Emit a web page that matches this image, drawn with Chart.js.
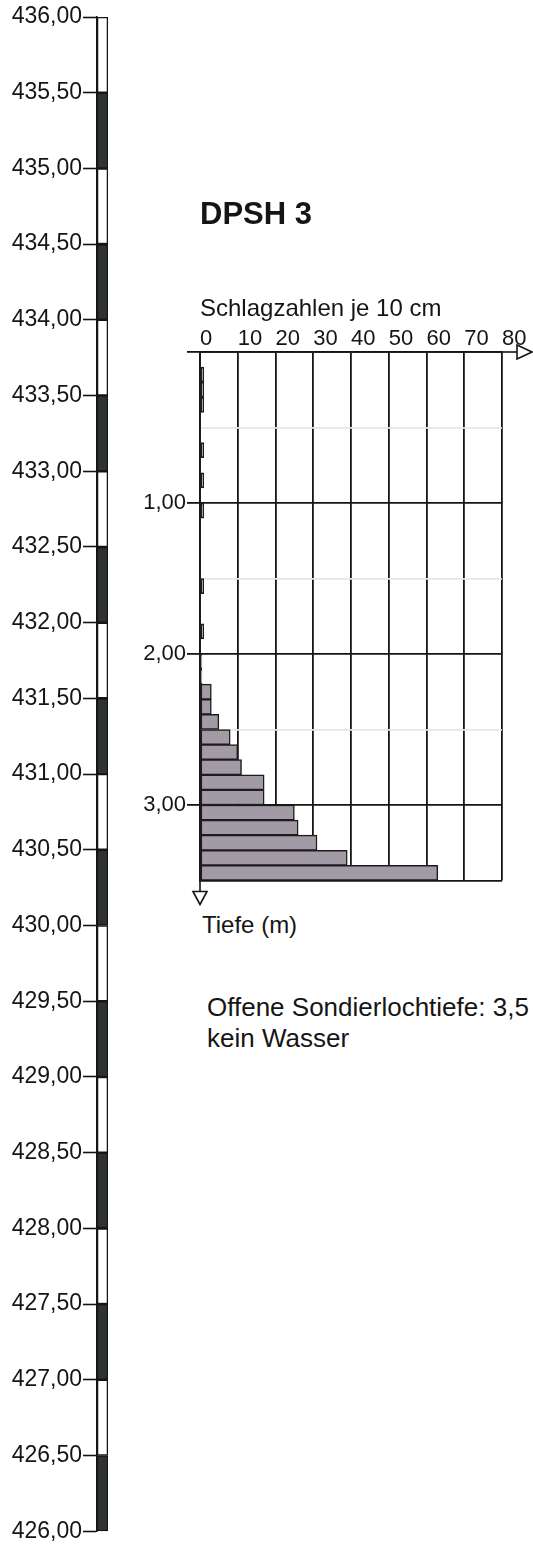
<!DOCTYPE html>
<html>
<head>
<meta charset="utf-8">
<script src="https://cdn.jsdelivr.net/npm/chart.js@4.4.1/dist/chart.umd.min.js"></script>
<style>
  body { margin: 0; background: #fff; }
  #page { position: relative; width: 533px; height: 1546px; overflow: hidden; font-family: "Liberation Sans", Arial, sans-serif; color: #151515; }
  canvas { position: absolute; }
  #levels { left: 0; top: 0; }
  #dpsh { left: 120px; top: 190px; }
  .note { position: absolute; white-space: nowrap; }
  #depthTitle { left: 202px; top: 913px; font-size: 24px; line-height: 24px; }
  #holeNote { left: 207px; top: 992px; font-size: 26px; line-height: 31px; }
</style>
</head>
<body>
<div id="page">
  <canvas id="levels" width="120" height="1546"></canvas>
  <canvas id="dpsh" width="413" height="720"></canvas>
  <div class="note" id="depthTitle">Tiefe (m)</div>
  <div class="note" id="holeNote">Offene Sondierlochtiefe: 3,5<br>kein Wasser</div>
</div>
<script>
// Höhenskala links (m ü. NN)
const elevBounds = [436.0, 435.5, 435.0, 434.5, 434.0, 433.5, 433.0, 432.5, 432.0, 431.5, 431.0,
                    430.5, 430.0, 429.5, 429.0, 428.5, 428.0, 427.5, 427.0, 426.5, 426.0];
const layerFill = ['#ffffff', '#2e3231', '#ffffff', '#2e3231', '#ffffff', '#2e3231', '#ffffff', '#2e3231',
                   '#ffffff', '#2e3231', '#ffffff', '#2e3231', '#ffffff', '#2e3231', '#ffffff', '#2e3231',
                   '#ffffff', '#2e3231', '#ffffff', '#2e3231'];

// Rammsondierung DPSH 3: Tiefe (Mitte je 10 cm) und Schlagzahlen
const depthMid = [0.05, 0.15, 0.25, 0.35, 0.45, 0.55, 0.65, 0.75, 0.85, 0.95,
                  1.05, 1.15, 1.25, 1.35, 1.45, 1.55, 1.65, 1.75, 1.85, 1.95,
                  2.05, 2.15, 2.25, 2.35, 2.45, 2.55, 2.65, 2.75, 2.85, 2.95,
                  3.05, 3.15, 3.25, 3.35, 3.45];
const blows = [0, 1, 1, 1, 0, 0, 1, 0, 1, 0,
               1, 0, 0, 0, 0, 1, 0, 0, 1, 0,
               0.5, 0.5, 3, 3, 5, 8, 10, 11, 17, 17,
               25, 26, 31, 39, 63];
const blowTicks = [0, 10, 20, 30, 40, 50, 60, 70, 80];
const depthMax = 3.5;

const fontFamily = '"Liberation Sans", Arial, sans-serif';
const ink = '#151515';
const fmt = v => v.toFixed(2).replace('.', ',');

// --- Höhenskala ---
new Chart(document.getElementById('levels'), {
  type: 'bar',
  data: {
    labels: ['Höhe'],
    datasets: layerFill.map((c, i) => ({
      data: [[elevBounds[i + 1], elevBounds[i]]],
      backgroundColor: c,
      borderColor: ink,
      borderWidth: 1.6,
      borderSkipped: false,
      grouped: false,
      barPercentage: 1,
      categoryPercentage: 1
    }))
  },
  options: {
    responsive: false,
    animation: false,
    layout: { padding: { top: 17, bottom: 12, left: 0, right: 12 } },
    plugins: { legend: { display: false }, tooltip: { enabled: false } },
    scales: {
      x: { display: false },
      y: {
        min: elevBounds[elevBounds.length - 1],
        max: elevBounds[0],
        afterFit: s => { s.width = 97; },
        ticks: {
          stepSize: 0.5,
          padding: 1,
          color: ink,
          font: { family: fontFamily, size: 23 },
          callback: v => fmt(v)
        },
        grid: { drawOnChartArea: false, tickLength: 14, tickColor: ink, tickWidth: 1.6 },
        border: { display: true, color: ink, width: 1.6 }
      }
    }
  }
});

// --- Pfeile an den Achsen ---
const axisArrows = {
  id: 'axisArrows',
  afterDraw(chart) {
    const { ctx, chartArea: a } = chart;
    ctx.save();
    ctx.strokeStyle = ink;
    ctx.lineWidth = 1.6;
    // x-Achse nach rechts
    ctx.beginPath();
    ctx.moveTo(a.right, a.top);
    ctx.lineTo(a.right + 15, a.top);
    ctx.stroke();
    ctx.beginPath();
    ctx.moveTo(a.right + 15, a.top - 7);
    ctx.lineTo(a.right + 30, a.top);
    ctx.lineTo(a.right + 15, a.top + 7);
    ctx.closePath();
    ctx.stroke();
    // Tiefe nach unten
    ctx.beginPath();
    ctx.moveTo(a.left, a.bottom);
    ctx.lineTo(a.left, a.bottom + 11);
    ctx.stroke();
    ctx.beginPath();
    ctx.moveTo(a.left - 7, a.bottom + 11);
    ctx.lineTo(a.left, a.bottom + 24);
    ctx.lineTo(a.left + 7, a.bottom + 11);
    ctx.closePath();
    ctx.stroke();
    ctx.restore();
  }
};

const tickVal = c => (c && c.tick ? c.tick.value : null);

// --- Sondierdiagramm ---
new Chart(document.getElementById('dpsh'), {
  type: 'bar',
  data: {
    datasets: [{
      data: depthMid.map((d, i) => ({ x: blows[i], y: d })),
      backgroundColor: '#a29aa5',
      borderColor: '#1c1c1c',
      borderWidth: 1.5,
      borderSkipped: false,
      barPercentage: 1,
      categoryPercentage: 1
    }]
  },
  options: {
    indexAxis: 'y',
    responsive: false,
    animation: false,
    layout: { padding: { top: 0, left: 0, right: 31, bottom: 29.5 } },
    plugins: {
      legend: { display: false },
      tooltip: { enabled: false },
      title: {
        display: true,
        text: 'DPSH 3',
        align: 'start',
        fullSize: false,
        color: ink,
        font: { family: fontFamily, size: 31, weight: 'bold' },
        padding: { top: 7, bottom: 0 }
      }
    },
    scales: {
      x: {
        type: 'linear',
        position: 'top',
        min: blowTicks[0],
        max: blowTicks[blowTicks.length - 1],
        afterFit: s => { s.height = 117.8; },
        ticks: {
          stepSize: 10,
          align: 'start',
          padding: 0,
          color: ink,
          font: { family: fontFamily, size: 22 }
        },
        title: {
          display: true,
          text: 'Schlagzahlen je 10 cm',
          align: 'start',
          color: ink,
          font: { family: fontFamily, size: 24 },
          padding: { top: 61, bottom: 0 }
        },
        grid: { color: '#151515', lineWidth: 1.8, drawTicks: false },
        border: { display: true, color: '#151515', width: 1.8 }
      },
      y: {
        type: 'linear',
        reverse: true,
        offset: false,
        min: 0,
        max: depthMax,
        afterFit: s => { s.width = 80; },
        ticks: {
          stepSize: 0.5,
          padding: 1,
          color: ink,
          font: { family: fontFamily, size: 22 },
          callback: v => (Number.isInteger(v) && v > 0 ? fmt(v) : '')
        },
        grid: {
          offset: false,
          tickLength: 13,
          lineWidth: 1.8,
          color: c => {
            const v = tickVal(c);
            return v === null || Number.isInteger(v) || v === depthMax ? '#151515' : '#e6e6e6';
          },
          tickColor: c => {
            const v = tickVal(c);
            return v === null || Number.isInteger(v) ? '#151515' : 'rgba(0,0,0,0)';
          }
        },
        border: { display: true, color: '#151515', width: 1.8 }
      }
    }
  },
  plugins: [axisArrows]
});
</script>
</body>
</html>
